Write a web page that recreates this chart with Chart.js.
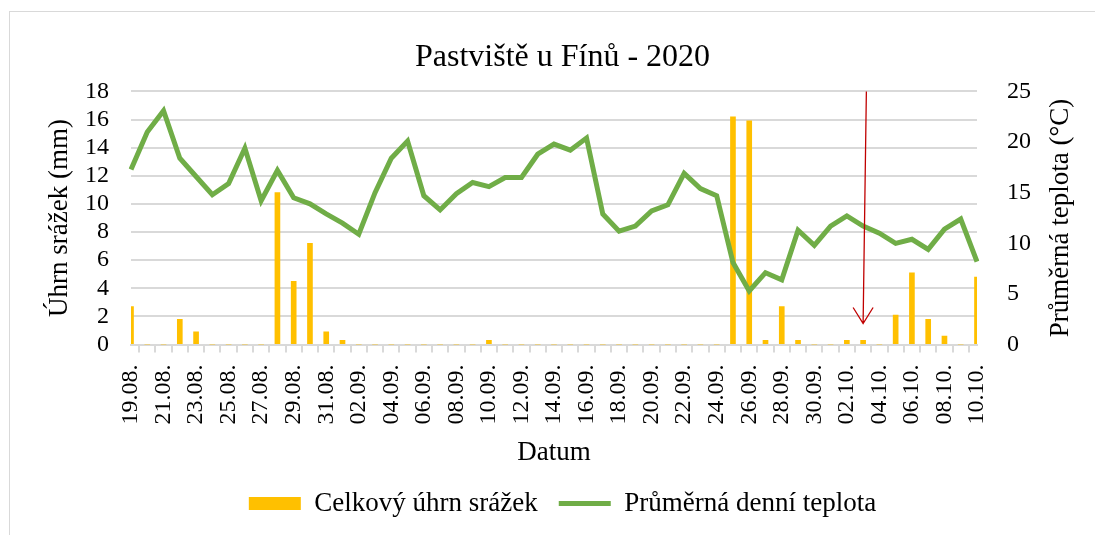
<!DOCTYPE html>
<html>
<head>
<meta charset="utf-8">
<script src="https://cdn.jsdelivr.net/npm/chart.js"></script>
<style>
  html, body { margin: 0; padding: 0; background: #fff; overflow: hidden; }
  #frame { position: absolute; left: 9px; top: 11px; width: 1100px; height: 540px; border: 1px solid #d9d9d9; }
  #wrap { position: absolute; left: 5px; top: 12px; width: 1110px; height: 523px; }
</style>
</head>
<body>
<div id="frame"></div>
<div id="wrap"><canvas id="chart"></canvas></div>
<script>
// data
const dates = [
  '19.08.', '20.08.', '21.08.', '22.08.', '23.08.', '24.08.', '25.08.', '26.08.', '27.08.', '28.08.',
  '29.08.', '30.08.', '31.08.', '01.09.', '02.09.', '03.09.', '04.09.', '05.09.', '06.09.', '07.09.',
  '08.09.', '09.09.', '10.09.', '11.09.', '12.09.', '13.09.', '14.09.', '15.09.', '16.09.', '17.09.',
  '18.09.', '19.09.', '20.09.', '21.09.', '22.09.', '23.09.', '24.09.', '25.09.', '26.09.', '27.09.',
  '28.09.', '29.09.', '30.09.', '01.10.', '02.10.', '03.10.', '04.10.', '05.10.', '06.10.', '07.10.',
  '08.10.', '09.10.', '10.10.'
];
const srazky = [
  2.7, 0, 0, 1.8, 0.9, 0, 0, 0, 0, 10.8,
  4.5, 7.2, 0.9, 0.3, 0, 0, 0, 0, 0, 0,
  0, 0, 0.3, 0, 0, 0, 0, 0, 0, 0,
  0, 0, 0, 0, 0, 0, 0, 16.2, 15.9, 0.3,
  2.7, 0.3, 0, 0, 0.3, 0.3, 0, 2.1, 5.1, 1.8,
  0.6, 0, 4.8
];
const teplota = [
  17.3, 21.0, 23.1, 18.4, 16.6, 14.8, 15.9, 19.4, 14.2, 17.2,
  14.5, 13.9, 12.9, 12.0, 10.9, 15.0, 18.4, 20.1, 14.7, 13.3,
  14.9, 16.0, 15.6, 16.5, 16.5, 18.8, 19.8, 19.2, 20.4, 12.9,
  11.2, 11.7, 13.2, 13.8, 16.9, 15.4, 14.7, 8.1, 5.3, 7.1,
  6.4, 11.3, 9.8, 11.7, 12.7, 11.7, 11.0, 10.0, 10.4, 9.4,
  11.4, 12.4, 8.2
];
// red arrow pointing at 03.10., from the top of the plot down to ~1.5 mm
const arrowDay = '03.10.';
const arrowFrom = 18;
const arrowTo = 1.5;

const serif = '"Liberation Serif", "Times New Roman", serif';
const gridGrey = '#d9d9d9';
const titleSize = 27;

// Excel writes the right axis title bottom-to-top, Chart.js the other way round
const rightTitle = {
  id: 'rightTitle',
  afterDraw(chart) {
    const s = chart.scales.y1;
    const ctx = chart.ctx;
    ctx.save();
    ctx.translate(s.right - 4 - titleSize * 0.6, (s.top + s.bottom) / 2);
    ctx.rotate(-Math.PI / 2);
    ctx.font = titleSize + 'px ' + serif;
    ctx.fillStyle = '#000';
    ctx.textAlign = 'center';
    ctx.textBaseline = 'middle';
    ctx.fillText('Průměrná teplota (°C)', 0, 0);
    ctx.restore();
  }
};

const arrow = {
  id: 'arrow',
  afterDatasetsDraw(chart) {
    const x = chart.scales.x, y = chart.scales.y;
    const i = dates.indexOf(arrowDay);
    const x0 = x.getPixelForValue(i + 0.2), y0 = y.getPixelForValue(arrowFrom);
    const x1 = x.getPixelForValue(i), y1 = y.getPixelForValue(arrowTo);
    const ctx = chart.ctx;
    ctx.save();
    ctx.strokeStyle = '#c00000';
    ctx.lineWidth = 1.3;
    ctx.beginPath();
    ctx.moveTo(x0, y0);
    ctx.lineTo(x1, y1);
    ctx.moveTo(x1 - 10, y1 - 16);
    ctx.lineTo(x1, y1);
    ctx.lineTo(x1 + 10, y1 - 16);
    ctx.stroke();
    ctx.restore();
  }
};

new Chart(document.getElementById('chart'), {
  data: {
    labels: dates,
    datasets: [
      {
        type: 'bar',
        label: 'Celkový úhrn srážek',
        data: srazky,
        backgroundColor: '#ffc000',
        barThickness: 5,
        yAxisID: 'y',
        order: 2
      },
      {
        type: 'line',
        label: 'Průměrná denní teplota',
        data: teplota,
        borderColor: '#70ad47',
        backgroundColor: '#70ad47',
        borderWidth: 5,
        pointRadius: 0,
        tension: 0,
        yAxisID: 'y1',
        order: 1
      }
    ]
  },
  options: {
    responsive: true,
    maintainAspectRatio: false,
    animation: false,
    layout: { padding: { left: 39, right: 34, top: 0, bottom: 8 } },
    plugins: {
      title: {
        display: true,
        text: 'Pastviště u Fínů - 2020',
        color: '#000',
        font: { family: serif, size: 32, weight: 'normal' },
        padding: { top: 26, bottom: 15 }
      },
      legend: {
        position: 'bottom',
        labels: {
          color: '#000',
          font: { family: serif, size: titleSize },
          usePointStyle: true,
          pointStyleWidth: 52,
          boxHeight: 13,
          padding: 21,
          sort: (a, b) => a.datasetIndex - b.datasetIndex,
          generateLabels(chart) {
            const items = Chart.defaults.plugins.legend.labels.generateLabels(chart);
            items.forEach(it => { it.pointStyle = it.datasetIndex === 0 ? 'rect' : 'line'; });
            return items;
          }
        }
      },
      tooltip: { enabled: false }
    },
    scales: {
      x: {
        offset: false,
        afterFit(scale) { scale.paddingLeft = 0; scale.paddingRight = 0; },
        grid: { drawOnChartArea: false, drawTicks: true, tickLength: 8, color: gridGrey, lineWidth: 2 },
        border: { color: gridGrey, width: 2 },
        ticks: {
          autoSkip: false,
          maxRotation: 90,
          minRotation: 90,
          padding: 12,
          color: '#000',
          font: { family: serif, size: 24 },
          callback: (v, i) => (i % 2 === 0 ? dates[i] : '')
        },
        title: {
          display: true,
          text: 'Datum',
          color: '#000',
          font: { family: serif, size: titleSize },
          padding: { top: 0, bottom: 0 }
        }
      },
      y: {
        position: 'left',
        min: 0,
        max: 18,
        afterFit(scale) { scale.width = 87; },
        ticks: { stepSize: 2, autoSkip: false, color: '#000', font: { family: serif, size: 24 }, padding: 22 },
        grid: { color: gridGrey, lineWidth: 2, drawTicks: false },
        border: { display: false },
        title: {
          display: true,
          text: 'Úhrn srážek (mm)',
          color: '#000',
          font: { family: serif, size: titleSize },
          padding: { top: 0, bottom: 9 }
        }
      },
      y1: {
        position: 'right',
        min: 0,
        max: 25,
        afterFit(scale) { scale.width = 104; },
        ticks: { stepSize: 5, autoSkip: false, color: '#000', font: { family: serif, size: 24 }, padding: 30 },
        grid: { drawOnChartArea: false, drawTicks: false },
        border: { display: false },
        title: {
          display: true,
          text: 'Průměrná teplota (°C)',
          color: 'rgba(0,0,0,0)',
          font: { family: serif, size: titleSize },
          padding: { top: 4, bottom: 12 }
        }
      }
    }
  },
  plugins: [rightTitle, arrow]
});
</script>
</body>
</html>
